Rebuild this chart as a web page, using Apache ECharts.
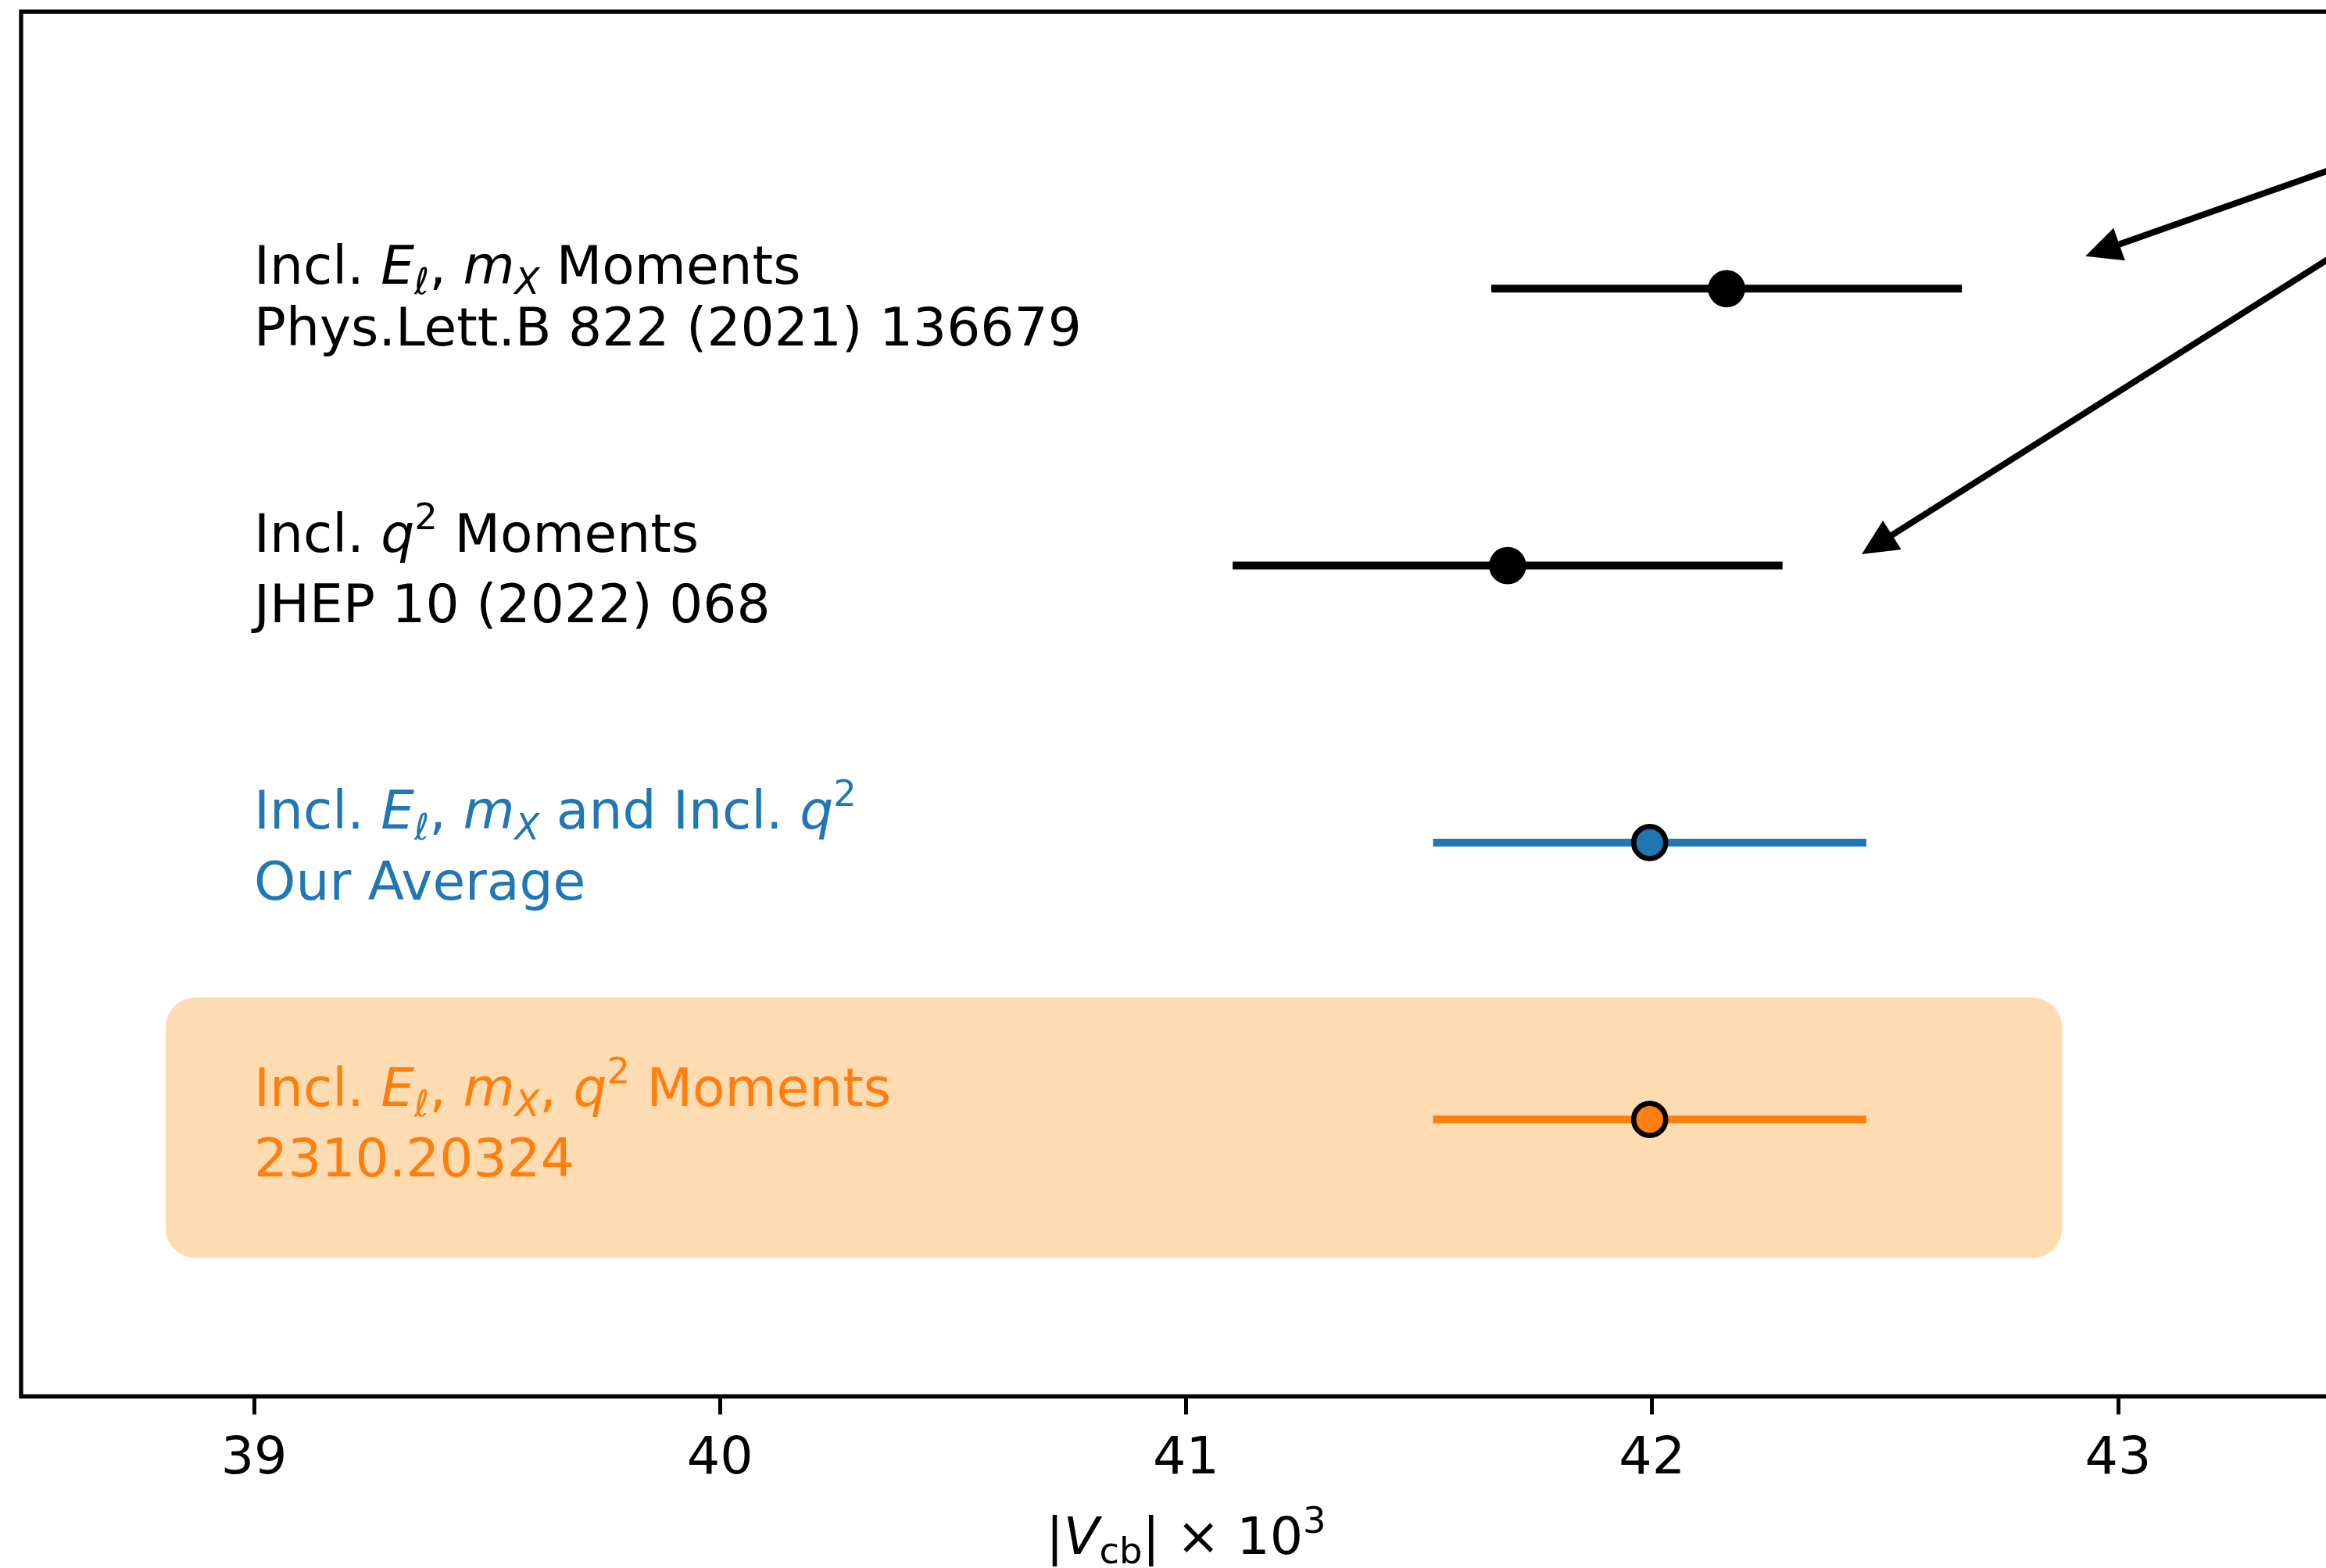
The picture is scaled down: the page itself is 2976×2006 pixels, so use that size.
<!DOCTYPE html>
<html>
<head>
<meta charset="utf-8">
<script src="https://cdn.jsdelivr.net/npm/echarts@6/dist/echarts.min.js"></script>
<style>
html,body{margin:0;padding:0;background:#ffffff;}
#c{width:2976px;height:2006px;}
</style>
</head>
<body>
<div id="c"></div>
<script>
// ---------------- data ----------------
const rowPositions = [4, 3, 2, 1];
const centralValues = [42.16, 41.69, 41.995, 41.995];
const uncertainties = [0.505, 0.59, 0.465, 0.465];
const labelLine1 = [
  'Incl. {it|E}{isub|ℓ}, {it|m}{isub|X} Moments',
  'Incl. {it|q}{sup|2} Moments',
  'Incl. {it|E}{isub|ℓ}, {it|m}{isub|X} and Incl. {it|q}{sup|2}',
  'Incl. {it|E}{isub|ℓ}, {it|m}{isub|X}, {it|q}{sup|2} Moments'
];
const labelLine2 = [
  'Phys.Lett.B 822 (2021) 136679',
  'JHEP 10 (2022) 068',
  'Our Average',
  '2310.20324'
];
const labelAnchorX = 39;
const tickValues = [39, 40, 41, 42, 43];
const tickLabels = ['39', '40', '41', '42', '43'];
const xRange = [38.5, 43.5];
const yRange = [0, 5];
const highlightBox = [38.81, 0.5, 42.88, 1.44];      // x0, y0, x1, y1 (data units)
const arrowStarts = [[44.13, 4.83], [44.13, 4.83]];
const arrowTips = [[42.93, 4.117], [42.45, 3.041]];
const axisTitle = '|{it|V}{sub|cb}| × 10{sup|3}';

// ---------------- styles ----------------
const rowColors = ['#000000', '#000000', '#1f77b4', '#ff7f0e'];
const FONT = 'DejaVu Sans';
const FS = 66.7;      // tick / axis title
const LFS = 67.8;     // annotation labels
const SFS = 46.5;

function richStyles(color) {
  return {
    it:   { fontStyle: 'italic', fontSize: LFS, fontFamily: FONT, fill: color, color: color },
    isub: { fontStyle: 'italic', fontSize: SFS, fontFamily: FONT, fill: color, color: color,
            height: 40, padding: [38, 0, 0, 0] },
    sup:  { fontSize: SFS, fontFamily: FONT, fill: color, color: color,
            height: 40, padding: [0, 0, 47, 0], lineHeight: 101.5 }
  };
}

const chart = echarts.init(document.getElementById('c'), null, { renderer: 'canvas', width: 2976, height: 2006 });

const option = {
  animation: false,
  backgroundColor: '#ffffff',
  grid: {
    left: 27, top: 15, width: 2981, height: 1771.5,
    show: true, borderColor: '#000000', borderWidth: 5.3, backgroundColor: 'transparent',
    containLabel: false, outerBoundsMode: 'none'
  },
  xAxis: {
    type: 'value', min: xRange[0], max: xRange[1],
    axisLine: { show: false },
    splitLine: { show: false },
    axisTick: { show: true, customValues: tickValues, length: 23, inside: false,
                lineStyle: { color: '#000000', width: 5 } },
    axisLabel: {
      customValues: tickValues, margin: 48, fontSize: FS, fontFamily: FONT, color: '#000000',
      lineHeight: 66.7,
      formatter: function (v) {
        const k = tickValues.findIndex(t => Math.abs(t - v) < 1e-9);
        return k >= 0 ? tickLabels[k] : '';
      }
    },
    name: axisTitle,
    nameLocation: 'middle',
    nameGap: 151,
    nameTextStyle: {
      fontSize: FS, fontFamily: FONT, color: '#000000', lineHeight: 66.7,
      rich: {
        it:  { fontStyle: 'italic', fontSize: FS, fontFamily: FONT, color: '#000000', lineHeight: 66.7 },
        sub: { fontSize: SFS, fontFamily: FONT, color: '#000000', height: 40, padding: [34, 0, 0, 0], lineHeight: 66.7 },
        sup: { fontSize: SFS, fontFamily: FONT, color: '#000000', height: 40, padding: [0, 0, 44, 0], lineHeight: 66.7 }
      }
    }
  },
  yAxis: { type: 'value', min: yRange[0], max: yRange[1], show: false },
  series: [
    {
      // highlight box
      type: 'custom', coordinateSystem: 'cartesian2d', z: 1, silent: true, clip: false,
      data: [highlightBox],
      encode: { x: [0, 2], y: [1, 3] },
      renderItem: function (params, api) {
        const a = api.coord([api.value(0), api.value(3)]);
        const b = api.coord([api.value(2), api.value(1)]);
        return {
          type: 'rect',
          shape: { x: a[0], y: a[1], width: b[0] - a[0], height: b[1] - a[1], r: 38 },
          style: { fill: '#FEDBB0' }
        };
      }
    },
    {
      // error bars
      type: 'custom', coordinateSystem: 'cartesian2d', z: 2, silent: true, clip: false,
      data: centralValues.map((v, i) => [v, rowPositions[i], uncertainties[i]]),
      encode: { x: 0, y: 1 },
      renderItem: function (params, api) {
        const i = params.dataIndex;
        const v = api.value(0), y = api.value(1), e = api.value(2);
        const p0 = api.coord([v - e, y]);
        const p1 = api.coord([v + e, y]);
        return {
          type: 'line',
          shape: { x1: p0[0], y1: p0[1], x2: p1[0], y2: p1[1] },
          style: { stroke: rowColors[i], lineWidth: 10, lineCap: 'butt' }
        };
      }
    },
    {
      // central values
      type: 'scatter', z: 3, silent: true,
      symbol: 'circle', symbolSize: 41,
      data: centralValues.map((v, i) => ({
        value: [v, rowPositions[i]],
        itemStyle: { color: rowColors[i], borderColor: '#000000', borderWidth: 6.67, opacity: 1 }
      }))
    },
    {
      // labels
      type: 'custom', coordinateSystem: 'cartesian2d', z: 5, silent: true, clip: false,
      data: rowPositions.map((r, i) => [labelAnchorX, r]),
      encode: { x: 0, y: 1 },
      renderItem: function (params, api) {
        const i = params.dataIndex;
        const p = api.coord([api.value(0), api.value(1)]);
        return {
          type: 'text',
          x: p[0], y: p[1] + 94.5,
          style: {
            text: labelLine1[i] + '\n' + labelLine2[i],
            fill: rowColors[i],
            fontSize: LFS, fontFamily: FONT,
            align: 'left', verticalAlign: 'bottom',
            lineHeight: 79,
            rich: richStyles(rowColors[i])
          }
        };
      }
    },
    {
      // arrows
      type: 'custom', coordinateSystem: 'cartesian2d', z: 6, silent: true, clip: false,
      data: arrowStarts.map((s, i) => [s[0], s[1], arrowTips[i][0], arrowTips[i][1]]),
      encode: { x: [0, 2], y: [1, 3] },
      renderItem: function (params, api) {
        const p0 = api.coord([api.value(0), api.value(1)]);
        const p1 = api.coord([api.value(2), api.value(3)]);
        const dx = p1[0] - p0[0], dy = p1[1] - p0[1];
        const len = Math.hypot(dx, dy);
        const ux = dx / len, uy = dy / len;
        const nx = -uy, ny = ux;
        const HL = 46, HW = 44;
        const bx = p1[0] - ux * HL, by = p1[1] - uy * HL;
        return {
          type: 'group',
          children: [
            { type: 'line', shape: { x1: p0[0], y1: p0[1], x2: bx + ux * 4, y2: by + uy * 4 },
              style: { stroke: '#000000', lineWidth: 8 } },
            { type: 'polygon',
              shape: { points: [[p1[0], p1[1]], [bx + nx * HW / 2, by + ny * HW / 2], [bx - nx * HW / 2, by - ny * HW / 2]] },
              style: { fill: '#000000' } }
          ]
        };
      }
    }
  ]
};
chart.setOption(option);
</script>
</body>
</html>
